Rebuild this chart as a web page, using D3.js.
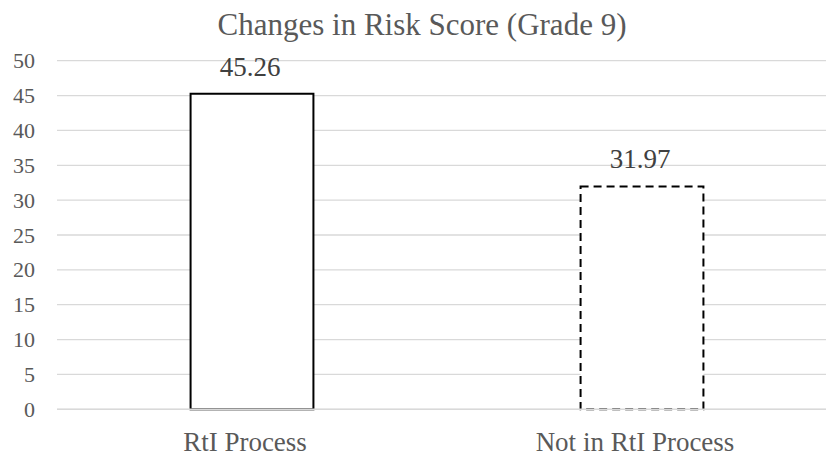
<!DOCTYPE html>
<html>
<head>
<meta charset="utf-8">
<script src="https://cdn.jsdelivr.net/npm/d3@7"></script>
<style>
  body { margin: 0; background: #fff; }
</style>
</head>
<body>
<svg id="chart" width="826" height="456" font-family="'Liberation Serif', 'DejaVu Serif', serif"></svg>
<script>
var categories = ["RtI Process", "Not in RtI Process"];
var values = [45.26, 31.97];
var labels = ["45.26", "31.97"];
var dashes = ["none", "8,5"];
var yTicks = [0, 5, 10, 15, 20, 25, 30, 35, 40, 45, 50];
var title = "Changes in Risk Score (Grade 9)";
var serif = "'Liberation Serif', 'DejaVu Serif', serif";

var svg = d3.select("#chart"),
    margin = {top: 60.7, right: -11, bottom: 46.7, left: 57},
    width = +svg.attr("width") - margin.left - margin.right,
    height = +svg.attr("height") - margin.top - margin.bottom,
    g = svg.append("g").attr("transform", "translate(" + margin.left + "," + margin.top + ")");

var x = d3.scaleBand()
    .domain(categories)
    .range([0, width])
    .paddingInner(0.685)
    .paddingOuter(0.3425);

var y = d3.scaleLinear()
    .domain([0, 50])
    .range([height, 0]);

// gridlines
g.append("g")
    .attr("class", "grid")
  .selectAll("line")
  .data(yTicks)
  .enter().append("line")
    .attr("x1", 0)
    .attr("x2", width)
    .attr("y1", function(d) { return y(d); })
    .attr("y2", function(d) { return y(d); })
    .attr("stroke", "#d9d9d9")
    .attr("stroke-width", 1.3);

// y axis labels
var yAxis = g.append("g")
    .call(d3.axisLeft(y).tickValues(yTicks).tickSize(0).tickPadding(22))
    .attr("font-family", serif)
    .attr("font-size", 22);
yAxis.select(".domain").remove();
yAxis.selectAll("text")
    .attr("fill", "#595959");

// bars
g.selectAll(".bar")
    .data(values)
  .enter().append("rect")
    .attr("class", "bar")
    .attr("x", function(d, i) { return x(categories[i]); })
    .attr("y", function(d) { return y(d); })
    .attr("width", x.bandwidth())
    .attr("height", function(d) { return y(0) - y(d); })
    .attr("fill", "#fff")
    .attr("stroke", "#000")
    .attr("stroke-width", 2)
    .attr("stroke-dasharray", function(d, i) { return dashes[i]; });

// zero line over bar bottoms
g.append("line")
    .attr("x1", 0)
    .attr("x2", width)
    .attr("y1", y(0))
    .attr("y2", y(0))
    .attr("stroke", "#d9d9d9")
    .attr("stroke-width", 1.5);

// value labels
g.selectAll(".value")
    .data(values)
  .enter().append("text")
    .attr("class", "value")
    .attr("x", function(d, i) { return x(categories[i]) + x.bandwidth() / 2 - 2; })
    .attr("y", function(d) { return y(d) - 18; })
    .attr("text-anchor", "middle")
    .attr("fill", "#404040")
    .attr("font-family", serif)
    .attr("font-size", 27)
    .text(function(d, i) { return labels[i]; });

// x axis labels
var xAxis = g.append("g")
    .attr("transform", "translate(0," + height + ")")
    .call(d3.axisBottom(x).tickSize(0).tickPadding(23))
    .attr("font-family", serif)
    .attr("font-size", 27);
xAxis.select(".domain").remove();
xAxis.selectAll("text")
    .attr("dx", -7)
    .attr("dy", "0.71em")
    .attr("fill", "#595959");

svg.append("text")
    .attr("x", 422)
    .attr("y", 35)
    .attr("text-anchor", "middle")
    .attr("fill", "#595959")
    .attr("font-family", serif)
    .attr("font-size", 31)
    .text(title);
</script>
</body>
</html>
